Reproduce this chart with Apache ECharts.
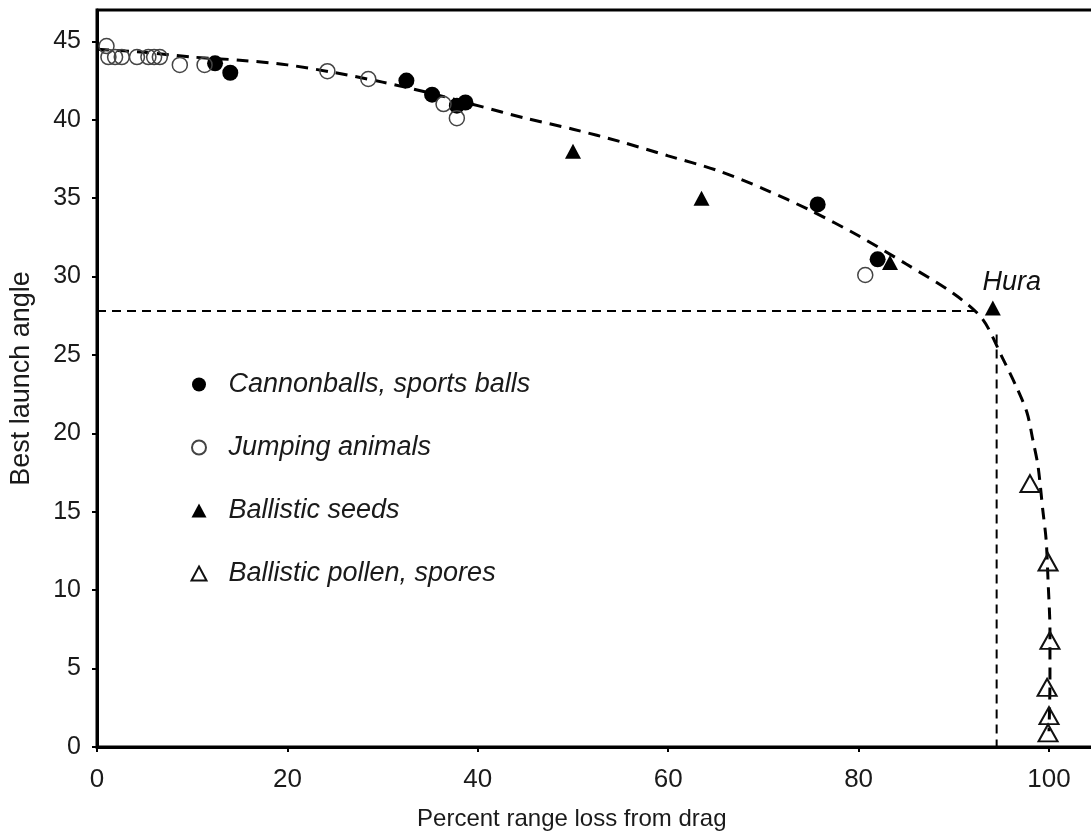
<!DOCTYPE html>
<html>
<head>
<meta charset="utf-8">
<script src="https://cdn.jsdelivr.net/npm/echarts@6/dist/echarts.min.js"></script>
<style>
html,body{margin:0;padding:0;background:#fff;}
#chart{width:1091px;height:839px;}
</style>
</head>
<body>
<div id="chart"></div>
<script>
// ---- data ----
var xTicks = [0, 20, 40, 60, 80, 100];
var yTicks = [0, 5, 10, 15, 20, 25, 30, 35, 40, 45];

var cannonX = [12.4, 14.0, 32.5, 35.2, 37.8, 38.7, 75.7, 82.0];
var cannonY = [43.6, 43.0, 42.5, 41.6, 40.9, 41.1, 34.6, 31.1];

var jumpX = [1.0, 1.2, 1.9, 2.6, 4.2, 5.4, 6.0, 6.6, 8.7, 11.3, 24.2, 28.5, 36.4, 37.8, 80.7];
var jumpY = [44.7, 44.0, 44.0, 44.0, 44.0, 44.0, 44.0, 44.0, 43.5, 43.5, 43.1, 42.6, 41.0, 40.1, 30.1];

var seedX = [50.0, 63.5, 83.3, 94.1];
var seedY = [38.0, 35.0, 30.9, 28.0];
var seedNames = ['', '', '', 'Hura'];

var pollenX = [98.0, 99.9, 100.1, 99.8, 100.0, 99.9];
var pollenY = [16.8, 11.8, 6.8, 3.8, 2.0, 0.9];

var curveX = [0, 5, 10, 15, 20, 25, 30, 35, 40, 45, 50, 55, 60, 65, 70, 75, 80, 85, 90, 93, 95.2, 96.7, 97.7, 98.3, 98.85, 99.35, 99.7, 99.9, 100.1, 100.1, 100.0];
var curveY = [44.5, 44.3, 44.0, 43.8, 43.5, 43.0, 42.4, 41.7, 40.9, 40.1, 39.4, 38.6, 37.7, 36.8, 35.6, 34.2, 32.6, 30.8, 28.9, 27.3, 24.7, 22.8, 21.3, 19.6, 17.9, 15.1, 13.2, 10.6, 7.4, 4.2, 1.0];

var hLineX = [0, 92.5];
var hLineY = [27.8, 27.8];
var vLineX = [94.5, 94.5];
var vLineY = [26.3, 0];

var seriesNames = ['Cannonballs, sports balls', 'Jumping animals', 'Ballistic seeds', 'Ballistic pollen, spores'];

function pairs(xs, ys) { return xs.map(function (x, i) { return [x, ys[i]]; }); }

var FONT = '"Liberation Sans", Arial, sans-serif';

var chart = echarts.init(document.getElementById('chart'), null, { renderer: 'canvas' });

var seedData = seedX.map(function (x, i) {
  var item = { value: [x, seedY[i]], name: seedNames[i] };
  if (seedNames[i]) {
    item.label = {
      show: true, position: 'top', distance: 4, offset: [19, 0],
      formatter: '{b}', fontFamily: FONT, fontStyle: 'italic', fontSize: 27, color: '#111'
    };
  }
  return item;
});

var option = {
  backgroundColor: '#fff',
  animation: false,
  grid: {
    left: 97, top: 10, width: 999.6, bottom: 92,
    outerBoundsMode: 'none',
    show: true, borderColor: '#000', borderWidth: 3, containLabel: false
  },
  legend: {
    orient: 'vertical',
    left: 185.5, top: 366,
    itemWidth: 15, itemHeight: 14, itemGap: 36,
    data: seriesNames,
    textStyle: { fontFamily: FONT, fontStyle: 'italic', fontSize: 27, color: '#1a1a1a', padding: [0, 0, 0, 17] },
    selectedMode: false
  },
  xAxis: {
    type: 'value', min: 0, max: 105,
    name: 'Percent range loss from drag', nameLocation: 'middle', nameGap: 60,
    nameTextStyle: { fontFamily: FONT, fontSize: 24, color: '#1a1a1a', padding: [0, 50, 0, 0] },
    axisLine: { show: true, onZero: false, lineStyle: { color: '#000', width: 3 } },
    axisTick: { show: true, inside: false, length: 5, customValues: xTicks, lineStyle: { color: '#000', width: 2 } },
    axisLabel: { customValues: xTicks, fontFamily: FONT, fontSize: 26, color: '#1a1a1a', margin: 20 },
    splitLine: { show: false }
  },
  yAxis: {
    type: 'value', min: 0, max: 47,
    name: 'Best launch angle', nameLocation: 'middle', nameGap: 62, nameRotate: 90,
    nameTextStyle: { fontFamily: FONT, fontSize: 27, color: '#1a1a1a' },
    axisLine: { show: true, onZero: false, lineStyle: { color: '#000', width: 3 } },
    axisTick: { show: true, inside: false, length: 5, customValues: yTicks, lineStyle: { color: '#000', width: 2 } },
    axisLabel: { customValues: yTicks, fontFamily: FONT, fontSize: 25, color: '#1a1a1a', margin: 16 },
    splitLine: { show: false }
  },
  series: [
    {
      name: 'curve', type: 'line', data: pairs(curveX, curveY),
      showSymbol: false, smooth: 0.3, z: 1, silent: true,
      lineStyle: { color: '#000', width: 3, type: [12, 8] }
    },
    {
      name: 'hline', type: 'line', data: pairs(hLineX, hLineY),
      showSymbol: false, z: 1, silent: true,
      lineStyle: { color: '#000', width: 2, type: [9, 6] }
    },
    {
      name: 'vline', type: 'line', data: pairs(vLineX, vLineY),
      showSymbol: false, z: 1, silent: true,
      lineStyle: { color: '#000', width: 2, type: [9, 6] }
    },
    {
      name: seriesNames[0], type: 'scatter', data: pairs(cannonX, cannonY),
      symbol: 'circle', symbolSize: 16, z: 3,
      itemStyle: { color: '#000', opacity: 1 }
    },
    {
      name: seriesNames[1], type: 'scatter', data: pairs(jumpX, jumpY),
      symbol: 'circle', symbolSize: 15, z: 3,
      itemStyle: { color: 'rgba(255,255,255,0)', borderColor: '#444', borderWidth: 1.5, opacity: 1 }
    },
    {
      name: seriesNames[2], type: 'scatter', data: seedData,
      symbol: 'triangle', symbolSize: [16, 15], z: 3,
      itemStyle: { color: '#000', opacity: 1 }
    },
    {
      name: seriesNames[3], type: 'scatter', data: pairs(pollenX, pollenY),
      symbol: 'triangle', symbolSize: [19, 17], z: 3,
      itemStyle: { color: 'rgba(255,255,255,0)', borderColor: '#111', borderWidth: 2, opacity: 1 }
    }
  ]
};

chart.setOption(option);
</script>
</body>
</html>
